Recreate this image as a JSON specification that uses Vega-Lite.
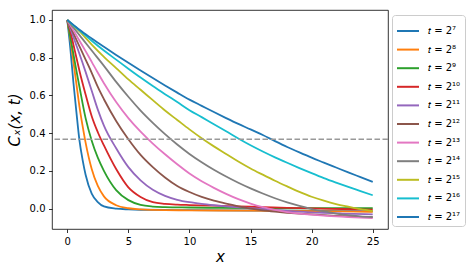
{
  "$schema": "https://vega.github.io/schema/vega-lite/v6.json",
  "autosize": {"type": "none"},
  "padding": {"left": 52, "top": 10, "right": 80, "bottom": 42},
  "width": 336,
  "height": 219,
  "config": {
    "font": "DejaVu Sans",
    "view": {"stroke": "#000000", "strokeWidth": 0.8},
    "axis": {"grid": false, "domain": false, "tickColor": "#000000", "tickSize": 3.5, "tickWidth": 0.8, "labelFont": "DejaVu Sans", "labelFontSize": 10, "labelColor": "#000000", "labelPadding": 3.5, "titleFont": "DejaVu Sans", "titleFontSize": 15, "titleFontWeight": "normal", "titleColor": "#000000"},
    "legend": {"labelFont": "DejaVu Sans", "labelFontSize": 10, "labelColor": "#000000"}
  },
  "datasets": {
    "curves": [
      {"t":"𝑡 = 2⁷","x":0,"c":1},{"t":"𝑡 = 2⁷","x":0.25,"c":0.85},{"t":"𝑡 = 2⁷","x":0.5,"c":0.67},{"t":"𝑡 = 2⁷","x":0.75,"c":0.51},{"t":"𝑡 = 2⁷","x":1,"c":0.36},{"t":"𝑡 = 2⁷","x":1.25,"c":0.26},{"t":"𝑡 = 2⁷","x":1.5,"c":0.18},{"t":"𝑡 = 2⁷","x":2,"c":0.08},{"t":"𝑡 = 2⁷","x":2.5,"c":0.035},{"t":"𝑡 = 2⁷","x":3,"c":0.012},{"t":"𝑡 = 2⁷","x":4,"c":0.0},{"t":"𝑡 = 2⁷","x":5,"c":-0.004},{"t":"𝑡 = 2⁷","x":6,"c":-0.006},{"t":"𝑡 = 2⁷","x":8,"c":-0.007},{"t":"𝑡 = 2⁷","x":10,"c":-0.008},{"t":"𝑡 = 2⁷","x":12.5,"c":-0.009},{"t":"𝑡 = 2⁷","x":15,"c":-0.01},{"t":"𝑡 = 2⁷","x":17.5,"c":-0.011},{"t":"𝑡 = 2⁷","x":20,"c":-0.012},{"t":"𝑡 = 2⁷","x":22.5,"c":-0.013},{"t":"𝑡 = 2⁷","x":25,"c":-0.015},

      {"t":"𝑡 = 2⁸","x":0,"c":1},{"t":"𝑡 = 2⁸","x":0.25,"c":0.9},{"t":"𝑡 = 2⁸","x":0.5,"c":0.78},{"t":"𝑡 = 2⁸","x":0.75,"c":0.66},{"t":"𝑡 = 2⁸","x":1,"c":0.54},{"t":"𝑡 = 2⁸","x":1.25,"c":0.44},{"t":"𝑡 = 2⁸","x":1.5,"c":0.35},{"t":"𝑡 = 2⁸","x":2,"c":0.21},{"t":"𝑡 = 2⁸","x":2.5,"c":0.12},{"t":"𝑡 = 2⁸","x":3,"c":0.065},{"t":"𝑡 = 2⁸","x":4,"c":0.018},{"t":"𝑡 = 2⁸","x":5,"c":0.002},{"t":"𝑡 = 2⁸","x":6,"c":-0.004},{"t":"𝑡 = 2⁸","x":8,"c":-0.008},{"t":"𝑡 = 2⁸","x":10,"c":-0.009},{"t":"𝑡 = 2⁸","x":12.5,"c":-0.01},{"t":"𝑡 = 2⁸","x":15,"c":-0.011},{"t":"𝑡 = 2⁸","x":17.5,"c":-0.012},{"t":"𝑡 = 2⁸","x":20,"c":-0.013},{"t":"𝑡 = 2⁸","x":22.5,"c":-0.015},{"t":"𝑡 = 2⁸","x":25,"c":-0.017},

      {"t":"𝑡 = 2⁹","x":0,"c":1},{"t":"𝑡 = 2⁹","x":0.25,"c":0.91},{"t":"𝑡 = 2⁹","x":0.5,"c":0.82},{"t":"𝑡 = 2⁹","x":0.75,"c":0.73},{"t":"𝑡 = 2⁹","x":1,"c":0.645},{"t":"𝑡 = 2⁹","x":1.5,"c":0.48},{"t":"𝑡 = 2⁹","x":2,"c":0.36},{"t":"𝑡 = 2⁹","x":2.5,"c":0.27},{"t":"𝑡 = 2⁹","x":3,"c":0.2},{"t":"𝑡 = 2⁹","x":4,"c":0.098},{"t":"𝑡 = 2⁹","x":5,"c":0.045},{"t":"𝑡 = 2⁹","x":6,"c":0.02},{"t":"𝑡 = 2⁹","x":7,"c":0.011},{"t":"𝑡 = 2⁹","x":8,"c":0.008},{"t":"𝑡 = 2⁹","x":10,"c":0.006},{"t":"𝑡 = 2⁹","x":12.5,"c":0.004},{"t":"𝑡 = 2⁹","x":15,"c":0.003},{"t":"𝑡 = 2⁹","x":17.5,"c":0.002},{"t":"𝑡 = 2⁹","x":20,"c":0.002},{"t":"𝑡 = 2⁹","x":22.5,"c":0.002},{"t":"𝑡 = 2⁹","x":25,"c":0.002},

      {"t":"𝑡 = 2¹⁰","x":0,"c":1},{"t":"𝑡 = 2¹⁰","x":0.25,"c":0.94},{"t":"𝑡 = 2¹⁰","x":0.5,"c":0.87},{"t":"𝑡 = 2¹⁰","x":0.75,"c":0.8},{"t":"𝑡 = 2¹⁰","x":1,"c":0.73},{"t":"𝑡 = 2¹⁰","x":1.5,"c":0.605},{"t":"𝑡 = 2¹⁰","x":2,"c":0.49},{"t":"𝑡 = 2¹⁰","x":2.5,"c":0.405},{"t":"𝑡 = 2¹⁰","x":3,"c":0.335},{"t":"𝑡 = 2¹⁰","x":4,"c":0.21},{"t":"𝑡 = 2¹⁰","x":5,"c":0.113},{"t":"𝑡 = 2¹⁰","x":6,"c":0.062},{"t":"𝑡 = 2¹⁰","x":7,"c":0.034},{"t":"𝑡 = 2¹⁰","x":8,"c":0.025},{"t":"𝑡 = 2¹⁰","x":9,"c":0.021},{"t":"𝑡 = 2¹⁰","x":10,"c":0.019},{"t":"𝑡 = 2¹⁰","x":12,"c":0.016},{"t":"𝑡 = 2¹⁰","x":14,"c":0.012},{"t":"𝑡 = 2¹⁰","x":16,"c":0.008},{"t":"𝑡 = 2¹⁰","x":18,"c":0.004},{"t":"𝑡 = 2¹⁰","x":20,"c":0.001},{"t":"𝑡 = 2¹⁰","x":22.5,"c":-0.002},{"t":"𝑡 = 2¹⁰","x":25,"c":-0.005},

      {"t":"𝑡 = 2¹¹","x":0,"c":1},{"t":"𝑡 = 2¹¹","x":0.25,"c":0.955},{"t":"𝑡 = 2¹¹","x":0.5,"c":0.91},{"t":"𝑡 = 2¹¹","x":0.75,"c":0.865},{"t":"𝑡 = 2¹¹","x":1,"c":0.82},{"t":"𝑡 = 2¹¹","x":1.5,"c":0.725},{"t":"𝑡 = 2¹¹","x":2,"c":0.625},{"t":"𝑡 = 2¹¹","x":2.5,"c":0.525},{"t":"𝑡 = 2¹¹","x":3,"c":0.44},{"t":"𝑡 = 2¹¹","x":4,"c":0.32},{"t":"𝑡 = 2¹¹","x":5,"c":0.22},{"t":"𝑡 = 2¹¹","x":6,"c":0.15},{"t":"𝑡 = 2¹¹","x":7,"c":0.1},{"t":"𝑡 = 2¹¹","x":8,"c":0.068},{"t":"𝑡 = 2¹¹","x":9,"c":0.047},{"t":"𝑡 = 2¹¹","x":10,"c":0.034},{"t":"𝑡 = 2¹¹","x":11,"c":0.025},{"t":"𝑡 = 2¹¹","x":12,"c":0.018},{"t":"𝑡 = 2¹¹","x":13,"c":0.012},{"t":"𝑡 = 2¹¹","x":14,"c":0.007},{"t":"𝑡 = 2¹¹","x":15,"c":0.003},{"t":"𝑡 = 2¹¹","x":16,"c":-0.002},{"t":"𝑡 = 2¹¹","x":17,"c":-0.007},{"t":"𝑡 = 2¹¹","x":18,"c":-0.012},{"t":"𝑡 = 2¹¹","x":20,"c":-0.02},{"t":"𝑡 = 2¹¹","x":22.5,"c":-0.026},{"t":"𝑡 = 2¹¹","x":25,"c":-0.03},

      {"t":"𝑡 = 2¹²","x":0,"c":1},{"t":"𝑡 = 2¹²","x":0.25,"c":0.965},{"t":"𝑡 = 2¹²","x":0.5,"c":0.93},{"t":"𝑡 = 2¹²","x":0.75,"c":0.895},{"t":"𝑡 = 2¹²","x":1,"c":0.86},{"t":"𝑡 = 2¹²","x":1.5,"c":0.79},{"t":"𝑡 = 2¹²","x":2,"c":0.72},{"t":"𝑡 = 2¹²","x":2.5,"c":0.645},{"t":"𝑡 = 2¹²","x":3,"c":0.58},{"t":"𝑡 = 2¹²","x":4,"c":0.465},{"t":"𝑡 = 2¹²","x":5,"c":0.368},{"t":"𝑡 = 2¹²","x":6,"c":0.285},{"t":"𝑡 = 2¹²","x":7,"c":0.22},{"t":"𝑡 = 2¹²","x":8,"c":0.165},{"t":"𝑡 = 2¹²","x":9,"c":0.12},{"t":"𝑡 = 2¹²","x":10,"c":0.088},{"t":"𝑡 = 2¹²","x":11,"c":0.062},{"t":"𝑡 = 2¹²","x":12,"c":0.042},{"t":"𝑡 = 2¹²","x":13,"c":0.026},{"t":"𝑡 = 2¹²","x":14,"c":0.012},{"t":"𝑡 = 2¹²","x":15,"c":0.0},{"t":"𝑡 = 2¹²","x":16,"c":-0.009},{"t":"𝑡 = 2¹²","x":17,"c":-0.016},{"t":"𝑡 = 2¹²","x":18,"c":-0.022},{"t":"𝑡 = 2¹²","x":19,"c":-0.027},{"t":"𝑡 = 2¹²","x":20,"c":-0.031},{"t":"𝑡 = 2¹²","x":22,"c":-0.038},{"t":"𝑡 = 2¹²","x":25,"c":-0.045},

      {"t":"𝑡 = 2¹³","x":0,"c":1},{"t":"𝑡 = 2¹³","x":0.25,"c":0.972},{"t":"𝑡 = 2¹³","x":0.5,"c":0.945},{"t":"𝑡 = 2¹³","x":0.75,"c":0.918},{"t":"𝑡 = 2¹³","x":1,"c":0.89},{"t":"𝑡 = 2¹³","x":1.5,"c":0.835},{"t":"𝑡 = 2¹³","x":2,"c":0.778},{"t":"𝑡 = 2¹³","x":2.5,"c":0.72},{"t":"𝑡 = 2¹³","x":3,"c":0.665},{"t":"𝑡 = 2¹³","x":4,"c":0.565},{"t":"𝑡 = 2¹³","x":5,"c":0.48},{"t":"𝑡 = 2¹³","x":6,"c":0.408},{"t":"𝑡 = 2¹³","x":7,"c":0.345},{"t":"𝑡 = 2¹³","x":8,"c":0.288},{"t":"𝑡 = 2¹³","x":9,"c":0.235},{"t":"𝑡 = 2¹³","x":10,"c":0.186},{"t":"𝑡 = 2¹³","x":11,"c":0.145},{"t":"𝑡 = 2¹³","x":12,"c":0.11},{"t":"𝑡 = 2¹³","x":13,"c":0.078},{"t":"𝑡 = 2¹³","x":14,"c":0.05},{"t":"𝑡 = 2¹³","x":15,"c":0.027},{"t":"𝑡 = 2¹³","x":16,"c":0.008},{"t":"𝑡 = 2¹³","x":17,"c":-0.007},{"t":"𝑡 = 2¹³","x":18,"c":-0.018},{"t":"𝑡 = 2¹³","x":19,"c":-0.026},{"t":"𝑡 = 2¹³","x":20,"c":-0.032},{"t":"𝑡 = 2¹³","x":21,"c":-0.037},{"t":"𝑡 = 2¹³","x":22,"c":-0.041},{"t":"𝑡 = 2¹³","x":23,"c":-0.045},{"t":"𝑡 = 2¹³","x":24,"c":-0.048},{"t":"𝑡 = 2¹³","x":25,"c":-0.05},

      {"t":"𝑡 = 2¹⁴","x":0,"c":1},{"t":"𝑡 = 2¹⁴","x":0.5,"c":0.96},{"t":"𝑡 = 2¹⁴","x":1,"c":0.92},{"t":"𝑡 = 2¹⁴","x":2,"c":0.838},{"t":"𝑡 = 2¹⁴","x":3,"c":0.757},{"t":"𝑡 = 2¹⁴","x":4,"c":0.672},{"t":"𝑡 = 2¹⁴","x":5,"c":0.593},{"t":"𝑡 = 2¹⁴","x":6,"c":0.52},{"t":"𝑡 = 2¹⁴","x":7,"c":0.455},{"t":"𝑡 = 2¹⁴","x":8,"c":0.395},{"t":"𝑡 = 2¹⁴","x":9,"c":0.34},{"t":"𝑡 = 2¹⁴","x":10,"c":0.29},{"t":"𝑡 = 2¹⁴","x":11,"c":0.246},{"t":"𝑡 = 2¹⁴","x":12,"c":0.206},{"t":"𝑡 = 2¹⁴","x":13,"c":0.17},{"t":"𝑡 = 2¹⁴","x":14,"c":0.137},{"t":"𝑡 = 2¹⁴","x":15,"c":0.107},{"t":"𝑡 = 2¹⁴","x":16,"c":0.08},{"t":"𝑡 = 2¹⁴","x":17,"c":0.055},{"t":"𝑡 = 2¹⁴","x":18,"c":0.033},{"t":"𝑡 = 2¹⁴","x":19,"c":0.014},{"t":"𝑡 = 2¹⁴","x":20,"c":-0.002},{"t":"𝑡 = 2¹⁴","x":21,"c":-0.015},{"t":"𝑡 = 2¹⁴","x":22,"c":-0.026},{"t":"𝑡 = 2¹⁴","x":23,"c":-0.035},{"t":"𝑡 = 2¹⁴","x":24,"c":-0.041},{"t":"𝑡 = 2¹⁴","x":25,"c":-0.045},

      {"t":"𝑡 = 2¹⁵","x":0,"c":1},{"t":"𝑡 = 2¹⁵","x":0.5,"c":0.97},{"t":"𝑡 = 2¹⁵","x":1,"c":0.94},{"t":"𝑡 = 2¹⁵","x":2,"c":0.87},{"t":"𝑡 = 2¹⁵","x":3,"c":0.805},{"t":"𝑡 = 2¹⁵","x":4,"c":0.745},{"t":"𝑡 = 2¹⁵","x":5,"c":0.685},{"t":"𝑡 = 2¹⁵","x":6,"c":0.63},{"t":"𝑡 = 2¹⁵","x":7,"c":0.575},{"t":"𝑡 = 2¹⁵","x":8,"c":0.52},{"t":"𝑡 = 2¹⁵","x":9,"c":0.47},{"t":"𝑡 = 2¹⁵","x":10,"c":0.42},{"t":"𝑡 = 2¹⁵","x":11,"c":0.373},{"t":"𝑡 = 2¹⁵","x":12,"c":0.33},{"t":"𝑡 = 2¹⁵","x":13,"c":0.29},{"t":"𝑡 = 2¹⁵","x":14,"c":0.25},{"t":"𝑡 = 2¹⁵","x":15,"c":0.213},{"t":"𝑡 = 2¹⁵","x":16,"c":0.18},{"t":"𝑡 = 2¹⁵","x":17,"c":0.148},{"t":"𝑡 = 2¹⁵","x":18,"c":0.118},{"t":"𝑡 = 2¹⁵","x":19,"c":0.089},{"t":"𝑡 = 2¹⁵","x":20,"c":0.063},{"t":"𝑡 = 2¹⁵","x":21,"c":0.042},{"t":"𝑡 = 2¹⁵","x":22,"c":0.024},{"t":"𝑡 = 2¹⁵","x":23,"c":0.01},{"t":"𝑡 = 2¹⁵","x":24,"c":-0.003},{"t":"𝑡 = 2¹⁵","x":25,"c":-0.013},

      {"t":"𝑡 = 2¹⁶","x":0,"c":1},{"t":"𝑡 = 2¹⁶","x":0.5,"c":0.972},{"t":"𝑡 = 2¹⁶","x":1,"c":0.945},{"t":"𝑡 = 2¹⁶","x":2,"c":0.89},{"t":"𝑡 = 2¹⁶","x":3,"c":0.838},{"t":"𝑡 = 2¹⁶","x":4,"c":0.79},{"t":"𝑡 = 2¹⁶","x":5,"c":0.742},{"t":"𝑡 = 2¹⁶","x":6,"c":0.695},{"t":"𝑡 = 2¹⁶","x":7,"c":0.65},{"t":"𝑡 = 2¹⁶","x":8,"c":0.607},{"t":"𝑡 = 2¹⁶","x":9,"c":0.565},{"t":"𝑡 = 2¹⁶","x":10,"c":0.522},{"t":"𝑡 = 2¹⁶","x":11,"c":0.485},{"t":"𝑡 = 2¹⁶","x":12,"c":0.447},{"t":"𝑡 = 2¹⁶","x":13,"c":0.41},{"t":"𝑡 = 2¹⁶","x":14,"c":0.372},{"t":"𝑡 = 2¹⁶","x":15,"c":0.336},{"t":"𝑡 = 2¹⁶","x":16,"c":0.303},{"t":"𝑡 = 2¹⁶","x":17,"c":0.272},{"t":"𝑡 = 2¹⁶","x":18,"c":0.243},{"t":"𝑡 = 2¹⁶","x":19,"c":0.215},{"t":"𝑡 = 2¹⁶","x":20,"c":0.188},{"t":"𝑡 = 2¹⁶","x":21,"c":0.162},{"t":"𝑡 = 2¹⁶","x":22,"c":0.138},{"t":"𝑡 = 2¹⁶","x":23,"c":0.115},{"t":"𝑡 = 2¹⁶","x":24,"c":0.093},{"t":"𝑡 = 2¹⁶","x":25,"c":0.071},

      {"t":"𝑡 = 2¹⁷","x":0,"c":1},{"t":"𝑡 = 2¹⁷","x":0.5,"c":0.974},{"t":"𝑡 = 2¹⁷","x":1,"c":0.948},{"t":"𝑡 = 2¹⁷","x":2,"c":0.902},{"t":"𝑡 = 2¹⁷","x":3,"c":0.858},{"t":"𝑡 = 2¹⁷","x":4,"c":0.815},{"t":"𝑡 = 2¹⁷","x":5,"c":0.773},{"t":"𝑡 = 2¹⁷","x":6,"c":0.732},{"t":"𝑡 = 2¹⁷","x":7,"c":0.692},{"t":"𝑡 = 2¹⁷","x":8,"c":0.653},{"t":"𝑡 = 2¹⁷","x":9,"c":0.615},{"t":"𝑡 = 2¹⁷","x":10,"c":0.578},{"t":"𝑡 = 2¹⁷","x":11,"c":0.545},{"t":"𝑡 = 2¹⁷","x":12,"c":0.512},{"t":"𝑡 = 2¹⁷","x":13,"c":0.48},{"t":"𝑡 = 2¹⁷","x":14,"c":0.449},{"t":"𝑡 = 2¹⁷","x":15,"c":0.42},{"t":"𝑡 = 2¹⁷","x":16,"c":0.39},{"t":"𝑡 = 2¹⁷","x":17,"c":0.358},{"t":"𝑡 = 2¹⁷","x":18,"c":0.327},{"t":"𝑡 = 2¹⁷","x":19,"c":0.298},{"t":"𝑡 = 2¹⁷","x":20,"c":0.27},{"t":"𝑡 = 2¹⁷","x":21,"c":0.244},{"t":"𝑡 = 2¹⁷","x":22,"c":0.218},{"t":"𝑡 = 2¹⁷","x":23,"c":0.192},{"t":"𝑡 = 2¹⁷","x":24,"c":0.167},{"t":"𝑡 = 2¹⁷","x":25,"c":0.142}
    ],
    "ref": [{"y": 0.3679}]
  },
  "layer": [
    {
      "data": {"name": "curves"},
      "mark": {"type": "line", "strokeWidth": 1.8, "interpolate": "monotone", "clip": true},
      "encoding": {
        "x": {"field": "x", "type": "quantitative", "scale": {"domain": [-1.25, 26.25], "nice": false, "zero": false},
              "axis": {"values": [0, 5, 10, 15, 20, 25], "format": "d", "title": "x", "titleFontStyle": "italic", "titlePadding": 3}},
        "y": {"field": "c", "type": "quantitative", "scale": {"domain": [-0.108, 1.053], "nice": false, "zero": false},
              "axis": {"values": [0, 0.2, 0.4, 0.6, 0.8, 1.0], "format": ".1f", "title": "Cₓ(x, t)", "titleFontStyle": "italic", "titlePadding": 7}},
        "color": {"field": "t", "type": "nominal",
                  "scale": {"domain": ["𝑡 = 2⁷","𝑡 = 2⁸","𝑡 = 2⁹","𝑡 = 2¹⁰","𝑡 = 2¹¹","𝑡 = 2¹²","𝑡 = 2¹³","𝑡 = 2¹⁴","𝑡 = 2¹⁵","𝑡 = 2¹⁶","𝑡 = 2¹⁷"],
                            "range": ["#1f77b4","#ff7f0e","#2ca02c","#d62728","#9467bd","#8c564b","#e377c2","#7f7f7f","#bcbd22","#17becf","#1f77b4"]},
                  "legend": {"title": null, "orient": "none", "legendX": 340, "legendY": 5, "symbolType": "stroke", "symbolSize": 484, "symbolStrokeWidth": 2, "labelOffset": 8, "rowPadding": 1.6, "padding": 4, "strokeColor": "#cccccc", "fillColor": "#ffffff", "cornerRadius": 3}}
      }
    },
    {
      "data": {"name": "ref"},
      "mark": {"type": "rule", "color": "#999999", "strokeWidth": 1.5, "strokeDash": [5.5, 2.5]},
      "encoding": {"y": {"field": "y", "type": "quantitative"}}
    }
  ]
}
